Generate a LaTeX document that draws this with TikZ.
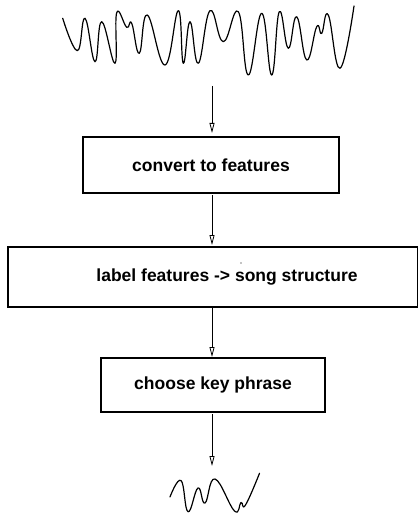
\documentclass[tikz,border=0pt]{standalone}
\usepackage{fontspec}
\setmainfont{Liberation Sans}
\usetikzlibrary{arrows.meta}
\begin{document}
\begin{tikzpicture}[x=1pt,y=-1pt,
  stagebox/.style={draw=black,line width=1.1pt,inner sep=0pt,
    font=\fontsize{17.5}{20}\selectfont\bfseries},
  flow/.style={draw=black,line width=0.9pt,
    -{Triangle[open,length=10pt,width=5pt,line width=0.8pt]}},
  wave/.style={draw=black,line width=1.2pt,line join=round,line cap=round}]
\useasboundingbox (0,0) rectangle (417,513);

% input signal
\draw[wave] plot[smooth,tension=0.75] coordinates {
  (62.7,18.3) (77.3,50.7) (85,18.3) (95,61.7) (101.7,21.7) (115,63.3)
  (116.7,12.7) (126.7,27.3) (131.7,23.3) (139.3,53.3) (147.3,15)
  (165,65) (178.3,10.7) (183.3,63.3) (190,21.7) (198.3,63.3) (210,10.7)
  (223.3,41.7) (238.3,11.7) (248.3,75) (261.7,13.3) (271.7,75)
  (279.3,11.7) (288.3,48.3) (296.7,16.7) (306.7,60) (316.7,26.7)
  (321.7,33.3) (328.3,15) (340,68.3) (354,6)};

% processing stages
\node[stagebox,minimum width=256pt,minimum height=56pt] (conv) at (211,165)
  {convert to features\hspace{10pt}};
\node[stagebox,minimum width=410pt,minimum height=60pt] (lab) at (213,277)
  {\hspace{28pt}label features -> song structure};
\node[stagebox,minimum width=224pt,minimum height=54pt] (key) at (213,385)
  {choose key phrase};

\fill (241,263) circle (0.6pt);

% connectors
\coordinate (src) at (212,86);
\coordinate (out) at (212,466);
\draw[flow] (src) -- (212,133);
\draw[flow] (212,195) -- (212,245);
\draw[flow] (212,307) -- (212,357);
\draw[flow] (212,414) -- (out);

% output phrase
\draw[wave] plot[smooth,tension=0.75] coordinates {
  (170,497) (181,480.5) (188,511.7) (198,488) (205,503)
  (215,479) (234.5,511) (241,502.5) (245.5,505) (259.5,473.3)};
\end{tikzpicture}
\end{document}
